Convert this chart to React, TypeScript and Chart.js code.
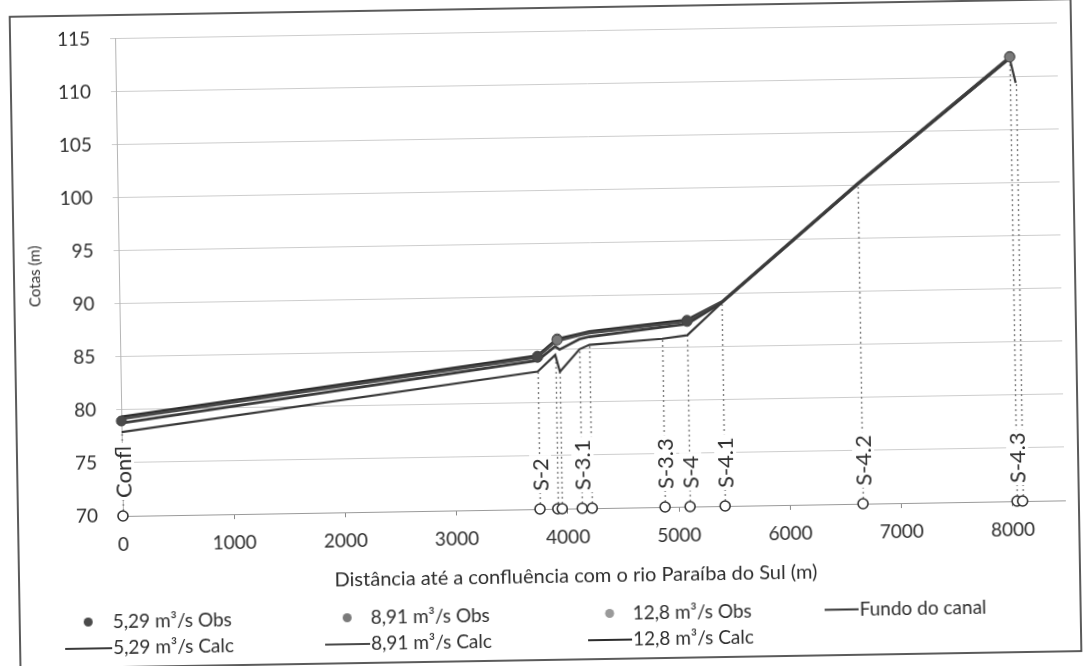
import React, { useEffect, useRef } from 'react';
import { Chart, registerables } from 'chart.js';

Chart.register(...registerables);

// ---- data ----
const sectionDist = [0, 3750, 3910, 3950, 4130, 4220, 4875, 5100, 5415, 6655, 8040, 8090];
const sectionLabels = ['Confl', 'S-2', '', '', 'S-3.1', '', 'S-3.3', 'S-4', 'S-4.1', 'S-4.2', 'S-4.3', ''];
const SECTION_BASE = 70;
const fundoCanal = [77.9, 82.95, 84.5, 82.9, 85.0, 85.4, 85.85, 86.15, 89.15, 100.1, 111.7, 109.4];

const calcDist = [0, 3750, 3910, 3950, 4130, 4220, 4875, 5100, 5415, 6655, 8040];
const calc529 = [78.75, 84.0, 85.3, 85.0, 85.95, 86.15, 86.95, 87.2, 89.15, 100.1, 111.75];
const calc891 = [79.15, 84.3, 85.7, 85.85, 86.3, 86.5, 87.2, 87.45, 89.2, 100.15, 111.8];
const calc128 = [79.35, 84.45, 85.85, 86.05, 86.45, 86.65, 87.35, 87.6, 89.25, 100.2, 111.85];

const obs529Dist = [0, 3750, 5100];
const obs529 = [78.95, 84.3, 87.45];
const obs891Dist = [3750, 3930, 5100, 8040];
const obs891 = [84.35, 85.9, 87.55, 111.85];
const obs128Dist = [3750, 3930, 8040];
const obs128 = [84.4, 86.0, 111.9];

const xTickValues = [0, 1000, 2000, 3000, 4000, 5000, 6000, 7000, 8000];
const xMax = 8470;
const yMin = 70;
const yMax = 115;

// ---- styles ----
const FONT = 'Lato, "Open Sans", sans-serif';
const TEXT = '#2e2e2e';
const C_OBS529 = '#4a4a4a';
const C_OBS891 = '#7a7a7a';
const C_OBS128 = '#9a9a9a';
const C_CALC529 = '#3a3a3a';
const C_CALC891 = '#4a4a4a';
const C_CALC128 = '#2c2c2c';
const C_FUNDO = '#383838';

const legendEntries = [
  { text: '5,29 m³/s Obs', kind: 'dot', color: C_OBS529, col: 0, row: 0 },
  { text: '8,91 m³/s Obs', kind: 'dot', color: C_OBS891, col: 1, row: 0 },
  { text: '12,8 m³/s Obs', kind: 'dot', color: C_OBS128, col: 2, row: 0 },
  { text: 'Fundo do canal', kind: 'line', color: C_FUNDO, col: 3, row: 0 },
  { text: '5,29 m³/s Calc', kind: 'line', color: C_CALC529, col: 0, row: 1 },
  { text: '8,91 m³/s Calc', kind: 'line', color: C_CALC891, col: 1, row: 1 },
  { text: '12,8 m³/s Calc', kind: 'line', color: C_CALC128, col: 2, row: 1 },
];
const legendColX = [60, 320, 583, 820];
const legendColW = [47, 45, 44, 34];
const legendRowY = [614.5, 641];

const toXY = (xs: number[], ys: number[]) => xs.map((d, i) => ({ x: d, y: ys[i] }));

const decoPlugin = {
  id: 'deco',
  beforeDatasetsDraw(chart: any) {
    const { ctx, scales } = chart;
    const x = scales.x, y = scales.y;
    ctx.save();
    ctx.strokeStyle = '#7c7c7c';
    ctx.lineWidth = 1.4;
    ctx.setLineDash([2, 3]);
    sectionDist.forEach((d, i) => {
      const px = Math.round(x.getPixelForValue(d)) + 0.5;
      ctx.beginPath();
      ctx.moveTo(px, y.getPixelForValue(SECTION_BASE));
      ctx.lineTo(px, y.getPixelForValue(fundoCanal[i]));
      ctx.stroke();
    });
    ctx.restore();
  },
  afterDatasetsDraw(chart: any) {
    const { ctx, scales } = chart;
    const x = scales.x, y = scales.y;
    ctx.save();
    ctx.font = `22px ${FONT}`;
    sectionDist.forEach((d, i) => {
      const lab = sectionLabels[i];
      if (!lab) return;
      const px = x.getPixelForValue(d) + 1;
      const py = y.getPixelForValue(SECTION_BASE) - 18;
      const w = ctx.measureText(lab).width;
      ctx.save();
      ctx.translate(px, py);
      ctx.rotate(-Math.PI / 2);
      ctx.fillStyle = '#ffffff';
      ctx.fillRect(-2, -11, w + 5, 22);
      ctx.fillStyle = TEXT;
      ctx.textAlign = 'left';
      ctx.textBaseline = 'middle';
      ctx.fillText(lab, 0, 1);
      ctx.restore();
    });
    ctx.restore();
  },
  afterDraw(chart: any) {
    const { ctx } = chart;
    ctx.save();
    // axis titles
    ctx.fillStyle = TEXT;
    ctx.textAlign = 'center';
    ctx.textBaseline = 'middle';
    ctx.font = `20px ${FONT}`;
    ctx.fillText('Distância até a confluência com o rio Paraíba do Sul (m)', 572, 577);
    ctx.save();
    ctx.translate(36, 268);
    ctx.rotate(-Math.PI / 2);
    ctx.font = `15px ${FONT}`;
    ctx.fillText('Cotas (m)', 0, 0);
    ctx.restore();
    // legend
    ctx.font = `19px ${FONT}`;
    ctx.textAlign = 'left';
    legendEntries.forEach((e) => {
      const x0 = legendColX[e.col];
      const w = legendColW[e.col];
      const yy = legendRowY[e.row];
      if (e.kind === 'dot') {
        ctx.beginPath();
        ctx.fillStyle = e.color;
        ctx.arc(x0 + w / 2, yy, 4.5, 0, Math.PI * 2);
        ctx.fill();
      } else {
        ctx.strokeStyle = e.color;
        ctx.lineWidth = 2;
        ctx.beginPath();
        ctx.moveTo(x0, yy);
        ctx.lineTo(x0 + w, yy);
        ctx.stroke();
      }
      ctx.fillStyle = TEXT;
      ctx.fillText(e.text, x0 + w + 1, yy);
    });
    // frame
    ctx.strokeStyle = '#4a4a4a';
    ctx.lineWidth = 1.8;
    ctx.strokeRect(15, 8, 1061, 652);
    ctx.restore();
  },
};

export default function App() {
  const ref = useRef<HTMLCanvasElement>(null);
  useEffect(() => {
    const canvas = ref.current;
    if (!canvas) return;
    Chart.defaults.font.family = FONT;
    const lineDs = (label: string, xs: number[], ys: number[], color: string, width: number) => ({
      type: 'line' as const,
      label,
      data: toXY(xs, ys),
      borderColor: color,
      backgroundColor: color,
      borderWidth: width,
      pointRadius: 0,
      tension: 0,
      fill: false,
      showLine: true,
    });
    const obsDs = (label: string, xs: number[], ys: number[], color: string) => ({
      type: 'scatter' as const,
      label,
      data: toXY(xs, ys),
      pointRadius: 5,
      pointBackgroundColor: color,
      pointBorderColor: '#444',
      pointBorderWidth: 1,
      showLine: false,
      clip: false,
    });
    const chart = new Chart(canvas, {
      type: 'scatter',
      data: {
        datasets: [
          {
            type: 'scatter',
            label: 'Seções',
            data: sectionDist.map((d) => ({ x: d, y: SECTION_BASE })),
            pointRadius: 5,
            pointBackgroundColor: '#ffffff',
            pointBorderColor: '#333333',
            pointBorderWidth: 1.6,
            showLine: false,
            clip: false,
          } as any,
          obsDs('5,29 m³/s Obs', obs529Dist, obs529, C_OBS529),
          obsDs('8,91 m³/s Obs', obs891Dist, obs891, C_OBS891),
          obsDs('12,8 m³/s Obs', obs128Dist, obs128, C_OBS128),
          lineDs('5,29 m³/s Calc', calcDist, calc529, C_CALC529, 2.6),
          lineDs('8,91 m³/s Calc', calcDist, calc891, C_CALC891, 2.6),
          lineDs('12,8 m³/s Calc', calcDist, calc128, C_CALC128, 2.6),
          lineDs('Fundo do canal', sectionDist, fundoCanal, C_FUNDO, 2.2),
        ] as any,
      },
      options: {
        responsive: false,
        animation: false,
        devicePixelRatio: 1,
        layout: { padding: { left: 0, top: 25, right: 22, bottom: 0 } },
        plugins: { legend: { display: false }, tooltip: { enabled: false } },
        scales: {
          x: {
            type: 'linear',
            min: 0,
            max: xMax,
            afterFit: (s: any) => { s.height = 157; },
            afterBuildTicks: (s: any) => { s.ticks = xTickValues.map((v) => ({ value: v })); },
            ticks: {
              color: TEXT,
              font: { size: 19, family: FONT },
              padding: 12,
              maxRotation: 0,
              autoSkip: false,
              callback: (v: any) => String(v),
            },
            grid: { drawOnChartArea: false, tickLength: 5, color: '#8a8a8a' },
            border: { display: true, color: '#9a9a9a', width: 1 },
          },
          y: {
            type: 'linear',
            min: yMin,
            max: yMax,
            afterFit: (s: any) => { s.width = 120; },
            ticks: {
              stepSize: 5,
              color: TEXT,
              font: { size: 19, family: FONT },
              padding: 20,
              callback: (v: any) => String(v),
            },
            grid: { color: '#cdcdcd', tickLength: 5, lineWidth: 1 },
            border: { display: true, color: '#b5b5b5', width: 1 },
          },
        },
      } as any,
      plugins: [decoPlugin],
    });
    return () => chart.destroy();
  }, []);

  return (
    <div style={{ position: 'fixed', left: 0, top: 0, width: 1084, height: 666, overflow: 'hidden', background: '#ffffff' }}>
      <div
        style={{
          position: 'absolute',
          left: 0,
          top: 0,
          width: 1084,
          height: 666,
          transform: 'rotate(-0.95deg)',
          transformOrigin: '542px 333px',
        }}
      >
        <canvas ref={ref} width={1084} height={666} style={{ display: 'block' }} />
      </div>
    </div>
  );
}
